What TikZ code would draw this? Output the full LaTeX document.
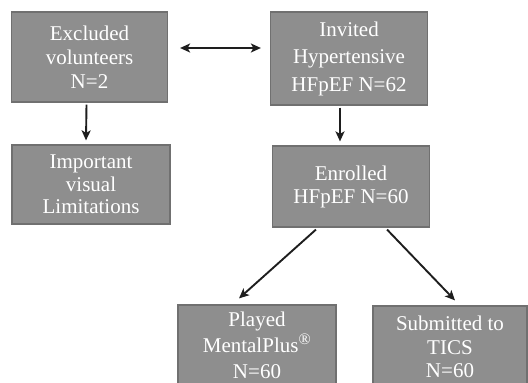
\documentclass[tikz,border=0pt]{standalone}
\usepackage{fontspec}
\setmainfont{Liberation Serif}
\usetikzlibrary{arrows.meta,calc}
\definecolor{boxfill}{RGB}{142,142,142}
\definecolor{boxline}{RGB}{112,112,112}
\definecolor{arr}{RGB}{30,30,30}
\tikzset{
  box/.style={draw=boxline, line width=1.2pt, fill=boxfill, text=white,
    align=center, inner sep=0pt},
  tipa/.tip={Stealth[length=10pt,width=9pt,inset=2.5pt]},
  conn/.style={draw=arr, line width=1.9pt, -tipa},
  dconn/.style={draw=arr, line width=1.9pt, tipa-tipa},
}
\begin{document}
\begin{tikzpicture}[x=1pt,y=-1pt]
\useasboundingbox (0,0) rectangle (528,383);
\clip (0,0) rectangle (528,383);
\fill[white] (0,0) rectangle (528,383);
\node[box, minimum width=156pt, minimum height=90pt, font=\fontsize{21}{24}\selectfont] (exc) at (89.5,57) {Excluded\\volunteers\\N=2};
\node[box, minimum width=157pt, minimum height=93pt, font=\fontsize{21}{27.5}\selectfont] (inv) at (349,58.5) {Invited\\Hypertensive\\HFpEF N=62};
\node[box, minimum width=158pt, minimum height=79pt, font=\fontsize{21}{22.5}\selectfont] (imp) at (91,184.5) {Important\\visual\\Limitations};
\node[box, minimum width=157pt, minimum height=81pt, font=\fontsize{21}{23}\selectfont] (enr) at (351,186.5) {Enrolled\\HFpEF N=60};
\node[box, minimum width=158pt, minimum height=80pt, font=\fontsize{21}{26}\selectfont] (ply) at (257,345) {Played\\MentalPlus\textsuperscript{\fontsize{16}{16}\selectfont\textregistered}\\N=60};
\node[box, minimum width=154pt, minimum height=82pt, font=\fontsize{21}{23.5}\selectfont] (sub) at (450,347) {Submitted to\\TICS\\N=60};
\draw[dconn] ([xshift=12pt,yshift=9pt]exc.east) -- ([xshift=-9pt,yshift=9pt]exc.east -| inv.west);
\draw[conn] ([xshift=-3pt,yshift=-2pt]exc.south) -- ([xshift=-5pt,yshift=4pt]imp.north);
\draw[conn] ([xshift=-9pt,yshift=-2pt]inv.south) -- ([xshift=-11pt,yshift=4pt]enr.north);
\draw[conn] ($(enr.south west)+(44,2)$) -- ($(ply.north)+(-18,-6)$);
\draw[conn] ($(enr.south east)+(-43,2)$) -- ($(sub.north)+(5,-5)$);
\end{tikzpicture}
\end{document}
